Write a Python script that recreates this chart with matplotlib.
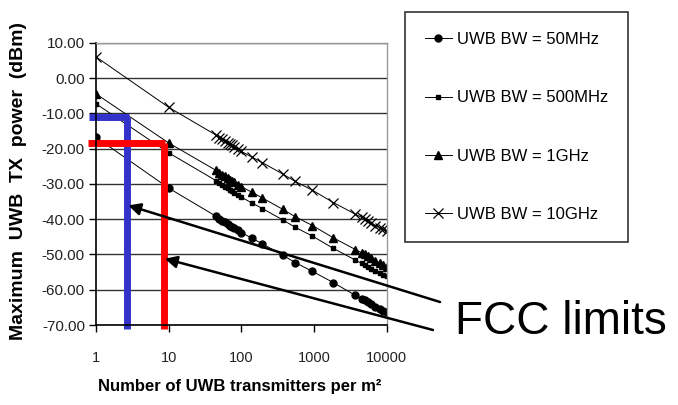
import matplotlib
matplotlib.use("Agg")
import matplotlib.pyplot as plt

plt.rcParams['font.family'] = ['Liberation Sans', 'DejaVu Sans']

# number of UWB transmitters per m^2
N = [1, 10, 45, 50, 55, 60, 65, 70, 75, 80, 90, 100, 140, 195, 370, 550, 950,
     1850, 3700, 4500, 5000, 5500, 6000, 7000, 8000, 9000, 10000]

# max TX power (dBm)
bw_50mhz = [-16.8, -31.2, -39.2, -39.9, -40.4, -40.9, -41.3, -41.8, -42.1, -42.5,
            -43.2, -43.8, -45.4, -47.0, -50.2, -52.3, -54.8, -58.0, -61.6, -62.5,
            -63.0, -63.5, -64.0, -64.8, -65.4, -65.9, -66.3]
bw_500mhz = [-7.3, -21.2, -29.1, -29.8, -30.4, -30.9, -31.3, -31.7, -32.1, -32.5,
             -33.2, -33.8, -35.4, -37.0, -40.2, -42.3, -44.8, -48.3, -51.6, -52.5,
             -53.0, -53.5, -54.0, -54.8, -55.3, -55.7, -56.1]
bw_1ghz = [-4.5, -18.4, -26.2, -26.9, -27.4, -27.9, -28.3, -28.8, -29.1, -29.5,
           -30.2, -30.8, -32.4, -34.0, -37.2, -39.3, -41.8, -45.3, -48.6, -49.5,
           -50.0, -50.5, -51.0, -51.8, -52.4, -52.9, -53.5]
bw_10ghz = [6.0, -8.3, -16.2, -16.9, -17.4, -17.9, -18.3, -18.8, -19.1, -19.5,
            -20.2, -20.8, -22.4, -24.0, -27.2, -29.3, -31.8, -35.3, -38.6, -39.5,
            -40.0, -40.5, -41.0, -41.8, -42.4, -42.9, -43.4]

yticks = [10, 0, -10, -20, -30, -40, -50, -60, -70]
xticks = [1, 10, 100, 1000, 10000]

# FCC limit markers (x position, level)
fcc_blue = (2.7, -11.0)
fcc_red = (8.6, -18.3)

fig = plt.figure(figsize=(6.78, 4.05), dpi=100)
ax = fig.add_axes([0.1416, 0.1975, 0.4288, 0.697])

ax.plot(N, bw_50mhz, color='black', lw=0.7, marker='o', ms=5, label='UWB BW = 50MHz')
ax.plot(N, bw_500mhz, color='black', lw=0.7, marker='s', ms=2.8, label='UWB BW = 500MHz')
ax.plot(N, bw_1ghz, color='black', lw=0.7, marker='^', ms=5.5, label='UWB BW = 1GHz')
ax.plot(N, bw_10ghz, color='black', lw=0.7, marker='x', ms=6.5, mew=0.9, label='UWB BW = 10GHz')

ax.set_xscale('log')
ax.set_xlim(1, 10000)
ax.set_ylim(-70, 10)
ax.set_xticks(xticks)
ax.set_xticklabels([str(v) for v in xticks], fontsize=10.5, color='#222222')
ax.minorticks_off()
ax.set_yticks(yticks)
ax.set_yticklabels(['%.2f' % v if v >= 0 else '-%.2f' % abs(v) for v in yticks],
                   fontsize=11, color='#222222')
ax.tick_params(axis='x', direction='out', length=5, width=1, pad=14)
ax.tick_params(axis='y', direction='out', length=5, width=1, pad=3)
ax.grid(axis='y', color='#333333', lw=1)
ax.set_axisbelow(True)
for s in ['left', 'bottom']:
    ax.spines[s].set_color('black')
    ax.spines[s].set_linewidth(1.2)
for s in ['top', 'right']:
    ax.spines[s].set_color('#999999')
    ax.spines[s].set_linewidth(1)

# FCC limits lines
ax.plot([fcc_blue[0], fcc_blue[0]], [-71, fcc_blue[1]], color='#3333cc', lw=5, clip_on=False,
        solid_capstyle='butt')
ax.plot([0.8, fcc_blue[0] * 1.05], [fcc_blue[1], fcc_blue[1]], color='#3333cc', lw=5,
        clip_on=False, solid_capstyle='butt')
ax.plot([fcc_red[0], fcc_red[0]], [-71, fcc_red[1]], color='red', lw=5, clip_on=False,
        solid_capstyle='butt')
ax.plot([0.78, fcc_red[0] * 1.05], [fcc_red[1], fcc_red[1]], color='red', lw=5,
        clip_on=False, solid_capstyle='butt')

arrow = dict(arrowstyle='-|>', color='black', lw=1.8, mutation_scale=18, shrinkA=0, shrinkB=0)
ax.annotate('', xy=(fcc_blue[0] * 1.03, -36.1), xycoords='data',
            xytext=(440 / 678, 1 - 302 / 405), textcoords='figure fraction',
            arrowprops=arrow, annotation_clip=False)
ax.annotate('', xy=(fcc_red[0] * 1.03, -51.2), xycoords='data',
            xytext=(433 / 678, 1 - 330 / 405), textcoords='figure fraction',
            arrowprops=arrow, annotation_clip=False)
fig.text(455 / 678, 1 - 322 / 405, 'FCC limits', fontsize=33, va='center', ha='left')

fig.text(240 / 678, 1 - 386 / 405, 'Number of UWB transmitters per m²', fontsize=12,
         fontweight='bold', ha='center', va='center')
fig.text(19 / 678, 1 - 181 / 405, 'Maximum  UWB  TX  power  (dBm)', rotation=90,
         fontsize=14, fontweight='bold', ha='center', va='center')

leg = fig.legend(loc='upper left', bbox_to_anchor=(405 / 678, 1 - 12 / 405), borderaxespad=0,
                 fontsize=12, frameon=True, fancybox=False, edgecolor='black',
                 labelspacing=2.6, handlelength=1.6, handletextpad=0.3, borderpad=1.2,
                 numpoints=1)
leg.get_frame().set_linewidth(1.2)

fig.savefig('out.png', dpi=100)
